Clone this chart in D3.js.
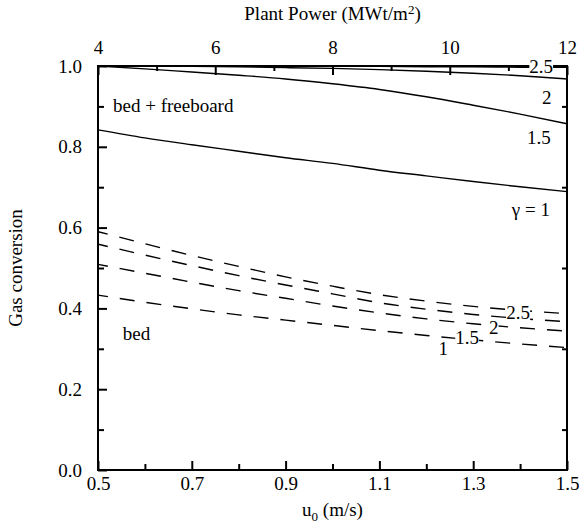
<!DOCTYPE html>
<html>
<head>
<meta charset="utf-8">
<script src="https://cdn.jsdelivr.net/npm/d3@7"></script>
<style>
  body { margin: 0; background: #fff; }
  svg text { font-family: "Liberation Serif", "DejaVu Serif", serif; fill: #000; }
</style>
</head>
<body>
<svg id="chart" width="580" height="527"></svg>
<script>
// Superficial gas velocity u0 (m/s)
const u0 = [0.5, 0.6, 0.7, 0.8, 0.9, 1.0, 1.1, 1.2, 1.3, 1.4, 1.5];

// Gas conversion, bed + freeboard, for each gamma
const freeboardG25 = [1.000, 1.000, 1.000, 1.000, 0.999, 0.999, 0.999, 0.998, 0.998, 0.997, 0.997];
const freeboardG2  = [1.000, 0.9995, 0.999, 0.998, 0.996, 0.994, 0.991, 0.987, 0.982, 0.976, 0.968];
const freeboardG15 = [1.000, 0.993, 0.985, 0.977, 0.968, 0.956, 0.942, 0.924, 0.903, 0.881, 0.857];
const freeboardG1  = [0.842, 0.822, 0.805, 0.789, 0.773, 0.759, 0.742, 0.728, 0.714, 0.701, 0.689];

// Gas conversion, bed only, for each gamma
const bedG25 = [0.590, 0.560, 0.531, 0.504, 0.478, 0.455, 0.434, 0.418, 0.405, 0.395, 0.387];
const bedG2  = [0.559, 0.532, 0.506, 0.481, 0.458, 0.436, 0.414, 0.398, 0.385, 0.375, 0.367];
const bedG15 = [0.509, 0.487, 0.465, 0.444, 0.425, 0.406, 0.389, 0.374, 0.362, 0.352, 0.344];
const bedG1  = [0.433, 0.415, 0.399, 0.384, 0.371, 0.358, 0.345, 0.333, 0.322, 0.312, 0.303];

// Curve labels: text and anchor in data units [u0, conversion]
const freeboardLabels = [
  { text: "2.5",   u: 1.445, v: 0.998 },
  { text: "2",     u: 1.457, v: 0.923 },
  { text: "1.5",   u: 1.440, v: 0.824 },
  { text: "γ = 1", u: 1.423, v: 0.646 }
];
const bedLabels = [
  { text: "2.5", u: 1.396, v: 0.389 },
  { text: "2",   u: 1.344, v: 0.354 },
  { text: "1.5", u: 1.287, v: 0.329 },
  { text: "1",   u: 1.236, v: 0.300 }
];

// Axis ticks
const xMajorTicks = [0.5, 0.7, 0.9, 1.1, 1.3, 1.5];
const xMinorTicks = [0.6, 0.8, 1.0, 1.2, 1.4];
const powerMajorTicks = [4, 6, 8, 10, 12];
const powerMinorTicks = [5, 7, 9, 11];
const yMajorTicks = [0.0, 0.2, 0.4, 0.6, 0.8, 1.0];
const yMinorTicks = [0.1, 0.3, 0.5, 0.7, 0.9];

const margin = { left: 98, right: 13, top: 66, bottom: 57 };
const W = 580, H = 527;
const innerW = W - margin.left - margin.right;
const innerH = H - margin.top - margin.bottom;

const serif = '"Liberation Serif", "DejaVu Serif", serif';
const fontSize = 19;

const svg = d3.select("#chart").attr("font-family", serif);
const g = svg.append("g").attr("transform", `translate(${margin.left},${margin.top})`);

const x = d3.scaleLinear().domain([0.5, 1.5]).range([0, innerW]);
const xTop = d3.scaleLinear().domain([4, 12]).range([0, innerW]);
const y = d3.scaleLinear().domain([0, 1]).range([innerH, 0]);

const line = d3.line()
  .x(d => x(d[0]))
  .y(d => y(d[1]))
  .curve(d3.curveMonotoneX);

// Solid curves (bed + freeboard)
[freeboardG25, freeboardG2, freeboardG15, freeboardG1].forEach(vals => {
  g.append("path")
    .datum(u0.map((u, i) => [u, vals[i]]))
    .attr("d", line)
    .attr("fill", "none")
    .attr("stroke", "#000")
    .attr("stroke-width", 1.4);
});

// Dashed curves (bed)
[bedG25, bedG2, bedG15, bedG1].forEach(vals => {
  g.append("path")
    .datum(u0.map((u, i) => [u, vals[i]]))
    .attr("d", line)
    .attr("fill", "none")
    .attr("stroke", "#000")
    .attr("stroke-width", 1.4)
    .attr("stroke-dasharray", "15,12")
    .attr("stroke-dashoffset", 5);
});

// Axes with inward ticks
function axisGroup(axis, transform) {
  const a = g.append("g").attr("transform", transform).call(axis);
  a.attr("font-family", serif).attr("font-size", fontSize);
  a.select(".domain").remove();
  a.selectAll(".tick line").attr("stroke", "#000").attr("stroke-width", 2);
  a.selectAll(".tick text").attr("font-family", serif).attr("font-size", fontSize).attr("fill", "#000");
  return a;
}

// Bottom
axisGroup(
  d3.axisBottom(x).tickValues(xMajorTicks).tickSize(-9).tickPadding(7)
    .tickFormat(d3.format(".1f")),
  `translate(0,${innerH})`);
axisGroup(d3.axisBottom(x).tickValues(xMinorTicks).tickSize(-6).tickFormat(""),
  `translate(0,${innerH})`);

// Top
axisGroup(
  d3.axisTop(xTop).tickValues(powerMajorTicks).tickSize(-9).tickPadding(12)
    .tickFormat(d3.format("d")),
  "translate(0,0)");
axisGroup(d3.axisTop(xTop).tickValues(powerMinorTicks).tickSize(-5).tickFormat(""),
  "translate(0,0)");

// Left
axisGroup(
  d3.axisLeft(y).tickValues(yMajorTicks).tickSize(-9).tickPadding(16)
    .tickFormat(d3.format(".1f")),
  "translate(0,0)");
axisGroup(d3.axisLeft(y).tickValues(yMinorTicks).tickSize(-6).tickFormat(""),
  "translate(0,0)");

// Right
axisGroup(d3.axisRight(y).tickValues(yMinorTicks).tickSize(-5).tickFormat(""),
  `translate(${innerW},0)`);

// Frame
g.append("rect")
  .attr("width", innerW).attr("height", innerH)
  .attr("fill", "none").attr("stroke", "#000").attr("stroke-width", 2);

// Curve labels with white backing
function drawLabel(d) {
  const t = g.append("text")
    .attr("x", x(d.u)).attr("y", y(d.v))
    .attr("text-anchor", "middle")
    .attr("dy", "0.35em")
    .attr("font-family", serif)
    .attr("font-size", fontSize)
    .text(d.text);
  const b = t.node().getBBox();
  g.insert("rect", () => t.node())
    .attr("x", b.x).attr("y", b.y + 3)
    .attr("width", b.width).attr("height", b.height - 6)
    .attr("fill", "#fff");
}
freeboardLabels.forEach(drawLabel);
bedLabels.forEach(drawLabel);

// Region notes
g.append("text").attr("x", x(0.532)).attr("y", y(0.886))
  .attr("font-family", serif).attr("font-size", fontSize).text("bed + freeboard");
g.append("text").attr("x", x(0.553)).attr("y", y(0.322))
  .attr("font-family", serif).attr("font-size", fontSize).text("bed");

// Axis titles
const topTitle = svg.append("text")
  .attr("x", margin.left + innerW / 2).attr("y", 20)
  .attr("text-anchor", "middle").attr("font-size", fontSize);
topTitle.append("tspan").text("Plant Power (MWt/m");
topTitle.append("tspan").attr("font-size", 13).attr("dy", -6).text("2");
topTitle.append("tspan").attr("dy", 6).text(")");

const bottomTitle = svg.append("text")
  .attr("x", margin.left + innerW / 2).attr("y", 516)
  .attr("text-anchor", "middle").attr("font-size", fontSize);
bottomTitle.append("tspan").text("u");
bottomTitle.append("tspan").attr("font-size", 13).attr("dy", 5).text("0");
bottomTitle.append("tspan").attr("dy", -5).text(" (m/s)");

svg.append("text")
  .attr("transform", `translate(22,${margin.top + innerH / 2}) rotate(-90)`)
  .attr("text-anchor", "middle").attr("font-size", fontSize)
  .text("Gas conversion");
</script>
</body>
</html>
